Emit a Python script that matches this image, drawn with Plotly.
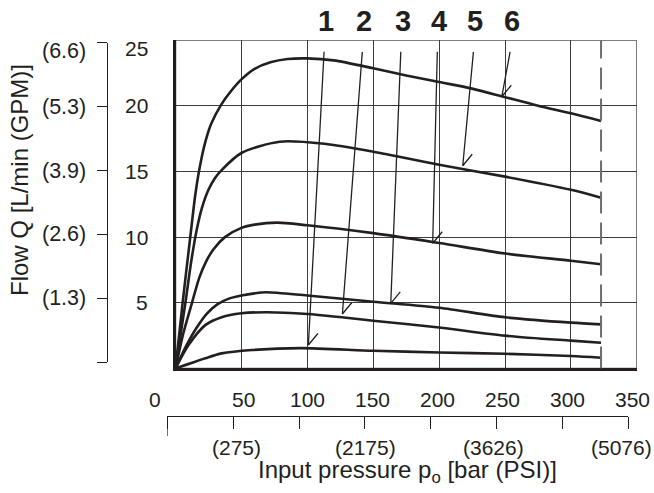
import plotly.graph_objects as go

# ---------------- data ----------------
# input pressure in bar, flow in L/min
curve1_x = [0, 22.6, 35, 58, 95, 150, 200, 250, 300, 322.8]
curve1_y = [0, 0.78, 1.15, 1.41, 1.55, 1.35, 1.22, 1.12, 0.95, 0.82]

curve2_x = [0, 10, 22.6, 35, 50, 69, 100, 126, 150, 200, 250, 300, 322.8]
curve2_y = [0, 1.8, 3.3, 3.9, 4.2, 4.28, 4.15, 3.9, 3.64, 3.12, 2.5, 2.12, 1.96]

curve3_x = [0, 8, 16, 24, 32, 40, 50, 60, 69, 100, 150, 200, 250, 300, 322.8]
curve3_y = [0, 1.7, 3.1, 4.2, 4.9, 5.3, 5.55, 5.72, 5.8, 5.55, 5.08, 4.62, 3.9, 3.49, 3.36]

curve4_x = [0, 6, 12.5, 18, 23, 29, 37.5, 50, 60, 77, 100, 150, 200, 250, 300, 322.8]
curve4_y = [0, 2.7, 5.0, 6.9, 8.1, 9.1, 10.0, 10.7, 10.95, 11.1, 10.9, 10.3, 9.55, 8.75, 8.2, 7.93]

curve5_x = [0, 7.5, 12, 16, 20, 25, 30, 35, 50, 79, 113, 150, 200, 250, 300, 322.8]
curve5_y = [0, 5.0, 8.2, 10.5, 12.2, 13.6, 14.5, 15.1, 16.4, 17.26, 17.1, 16.5, 15.5, 14.6, 13.6, 13.0]

curve6_x = [0, 5.4, 11.2, 15, 18, 22, 27, 34.8, 42, 50, 60, 72, 85, 100, 120, 150, 175, 200,
            225, 250, 275, 300, 322.8]
curve6_y = [0, 5.0, 10.0, 13.2, 15.1, 17.0, 18.6, 20.1, 21.1, 22.0, 22.8, 23.3, 23.55, 23.6,
            23.45, 22.85, 22.3, 21.8, 21.3, 20.65, 20.0, 19.42, 18.84]

curves_x = [curve1_x, curve2_x, curve3_x, curve4_x, curve5_x, curve6_x]
curves_y = [curve1_y, curve2_y, curve3_y, curve4_y, curve5_y, curve6_y]

curve_labels = ["1", "2", "3", "4", "5", "6"]

# leader lines from the curve numbers to their curves (bar, L/min)
leader_top_x = [112.7, 141.7, 170.9, 198.6, 226.0, 253.8]
leader_top_y = [24.1, 24.1, 24.1, 24.1, 24.1, 24.1]
leader_tip_x = [100.8, 126.6, 163.3, 195.1, 217.9, 247.5]
leader_tip_y = [1.79, 4.15, 4.96, 9.53, 15.43, 20.68]

max_pressure = 322.8  # dashed limit line (bar)

bar_tick_vals = [0, 50, 100, 150, 200, 250, 300, 350]
bar_tick_text = ["0", "50", "100", "150", "200", "250", "300", "350"]
flow_tick_vals = [5, 10, 15, 20, 25]
flow_tick_text = ["5", "10", "15", "20", "25"]
gpm_tick_vals = [0, 1, 2, 3, 4, 5]
gpm_tick_text = ["", "(1.3)", "(2.6)", "(3.9)", "(5.3)", "(6.6)"]
psi_tick_vals = [0, 1, 2, 3, 4, 5, 6, 7]
psi_tick_text = ["", "(275)", "", "(2175)", "", "(3626)", "", "(5076)"]

# ---------------- style ----------------
FIG_W, FIG_H = 654, 493
FONT = "Liberation Sans, Arial, Helvetica, sans-serif"
INK = "#231f20"
GRID = "#3c3c3c"
X_RANGE = [0, 350]
Y_RANGE = [0, 25]
X_DOMAIN = [0.26835, 0.97385]
Y_DOMAIN = [0.25254, 0.91886]
GPM_DOMAIN = [0.26511, 0.91339]
GPM_POS = 0.16560
PSI_DOMAIN = [0.25581, 0.96070]
PSI_POS = 0.15619
PX_PER_X = FIG_W * (X_DOMAIN[1] - X_DOMAIN[0]) / (X_RANGE[1] - X_RANGE[0])
PX_PER_Y = FIG_H * (Y_DOMAIN[1] - Y_DOMAIN[0]) / (Y_RANGE[1] - Y_RANGE[0])

fig = go.Figure()

for cx, cy in zip(curves_x, curves_y):
    fig.add_trace(go.Scatter(
        x=cx, y=cy, mode="lines", xaxis="x", yaxis="y",
        line=dict(color=INK, width=2.6, shape="spline", smoothing=0.8),
        hoverinfo="skip", showlegend=False))

# leader lines with a one-sided barb
barb_dx = 9.5 / PX_PER_X
barb_dy = 11.5 / PX_PER_Y
for tx, ty, px, py in zip(leader_top_x, leader_top_y, leader_tip_x, leader_tip_y):
    fig.add_trace(go.Scatter(
        x=[tx, px, px + barb_dx], y=[ty, py, py + barb_dy], mode="lines",
        xaxis="x", yaxis="y",
        line=dict(color=INK, width=1.3), hoverinfo="skip", showlegend=False))

# dummy traces so the secondary (unit) axes get their own subplots
fig.add_trace(go.Scatter(x=[None], y=[None], xaxis="x3", yaxis="y2",
                         showlegend=False, hoverinfo="skip"))
fig.add_trace(go.Scatter(x=[None], y=[None], xaxis="x2", yaxis="y3",
                         showlegend=False, hoverinfo="skip"))

# plot frame (top/right thin) and dashed limit
fig.add_shape(type="rect", xref="x", yref="y", x0=X_RANGE[0], x1=X_RANGE[1],
              y0=Y_RANGE[0], y1=Y_RANGE[1], line=dict(color="#555555", width=1.5),
              layer="below")
fig.add_shape(type="line", xref="x", yref="y", x0=max_pressure, x1=max_pressure,
              y0=Y_RANGE[0], y1=Y_RANGE[1],
              line=dict(color="#6d6d6d", width=2, dash="22px,9px"))
# longer first tick on the PSI axis
fig.add_shape(type="line", xref="x2", yref="paper", x0=0, x1=0,
              y0=PSI_POS, y1=PSI_POS - 20 / FIG_H, line=dict(color=INK, width=1.2))

annotations = []
# primary y tick labels
for v, t in zip(flow_tick_vals, flow_tick_text):
    annotations.append(dict(xref="x", yref="y", x=0, y=v, text=t, showarrow=False,
                            xanchor="right", yanchor="middle", xshift=-25.5,
                            yshift=-8 if v == max(flow_tick_vals) else 0,
                            font=dict(family=FONT, size=21, color=INK)))
# secondary (GPM) labels
for v, t in zip(gpm_tick_vals, gpm_tick_text):
    if not t:
        continue
    annotations.append(dict(xref="x", yref="y2", x=0, y=v, text=t, showarrow=False,
                            xanchor="right", yanchor="middle", xshift=-87.2,
                            yshift=-8 if v == max(gpm_tick_vals) else 0,
                            font=dict(family=FONT, size=21.5, color=INK)))
# primary x tick labels
for v, t in zip(bar_tick_vals, bar_tick_text):
    annotations.append(dict(xref="x", yref="y", x=v, y=0, text=t, showarrow=False,
                            xanchor="center", yanchor="middle", yshift=-30.5,
                            xshift=-20.5 if v == 0 else 1.6 - 0.02 * (v - 50),
                            font=dict(family=FONT, size=21, color=INK)))
# secondary (PSI) labels
for v, t in zip(psi_tick_vals, psi_tick_text):
    if not t:
        continue
    annotations.append(dict(xref="x2", yref="y3", x=v, y=0, text=t, showarrow=False,
                            xanchor="center", yanchor="middle", yshift=-32,
                            xshift=3.6 - 1.7 * (v - 1),
                            font=dict(family=FONT, size=21, color=INK)))
# curve numbers
for lx, lab in zip(leader_top_x, curve_labels):
    annotations.append(dict(xref="x", yref="y", x=lx, y=Y_RANGE[1], text="<b>%s</b>" % lab,
                            showarrow=False, xanchor="center", yanchor="middle",
                            xshift=2, yshift=19,
                            font=dict(family=FONT, size=29, color=INK)))
# axis titles
annotations.append(dict(xref="paper", yref="paper", x=0.03058, y=0.63489,
                        text="Flow Q [L/min (GPM)]", textangle=-90, showarrow=False,
                        xanchor="center", yanchor="middle",
                        font=dict(family=FONT, size=24, color=INK)))
annotations.append(dict(xref="paper", yref="paper", x=0.62278, y=0.04462,
                        text="Input pressure p<sub>o</sub> [bar (PSI)]", showarrow=False,
                        xanchor="center", yanchor="middle",
                        font=dict(family=FONT, size=24, color=INK)))

hidden = dict(visible=False, fixedrange=True, range=[0, 1])

fig.update_layout(
    width=FIG_W, height=FIG_H,
    margin=dict(l=0, r=0, t=0, b=0),
    paper_bgcolor="white", plot_bgcolor="white",
    showlegend=False,
    annotations=annotations,
    xaxis=dict(domain=X_DOMAIN, range=X_RANGE, anchor="y",
               tickvals=bar_tick_vals[1:-1], showticklabels=False, ticks="",
               showgrid=True, gridcolor=GRID, gridwidth=1.2, zeroline=False,
               showline=True, linecolor=INK, linewidth=3, fixedrange=True),
    yaxis=dict(domain=Y_DOMAIN, range=Y_RANGE, anchor="x",
               tickvals=flow_tick_vals[:-1], showticklabels=False, ticks="",
               showgrid=True, gridcolor=GRID, gridwidth=1.2, zeroline=False,
               showline=True, linecolor=INK, linewidth=3, fixedrange=True),
    # GPM axis lives in its own tiny subplot (x3, y2)
    xaxis3=dict(domain=[GPM_POS, GPM_POS + 0.01], anchor="y2", **hidden),
    yaxis2=dict(domain=GPM_DOMAIN, range=[0, 5], anchor="x3", side="left",
                tickvals=gpm_tick_vals, showticklabels=False, ticks="outside",
                ticklen=10, tickwidth=1.2, tickcolor=INK, showline=True,
                linecolor=INK, linewidth=1.2, showgrid=False, zeroline=False,
                fixedrange=True),
    # PSI axis lives in its own tiny subplot (x2, y3)
    yaxis3=dict(domain=[PSI_POS, PSI_POS + 0.01], anchor="x2", **hidden),
    xaxis2=dict(domain=PSI_DOMAIN, range=[0, 7], anchor="y3", side="bottom",
                tickvals=psi_tick_vals, showticklabels=False, ticks="outside",
                ticklen=12, tickwidth=1.2, tickcolor=INK, showline=True,
                linecolor=INK, linewidth=1.2, showgrid=False, zeroline=False,
                fixedrange=True),
)

# the figure fills the whole window: drop the page's default body margin
fig.write_html("out.html", config={"displayModeBar": False},
               post_script="document.body.style.margin='0px';"
                           "document.body.style.overflow='hidden';")
